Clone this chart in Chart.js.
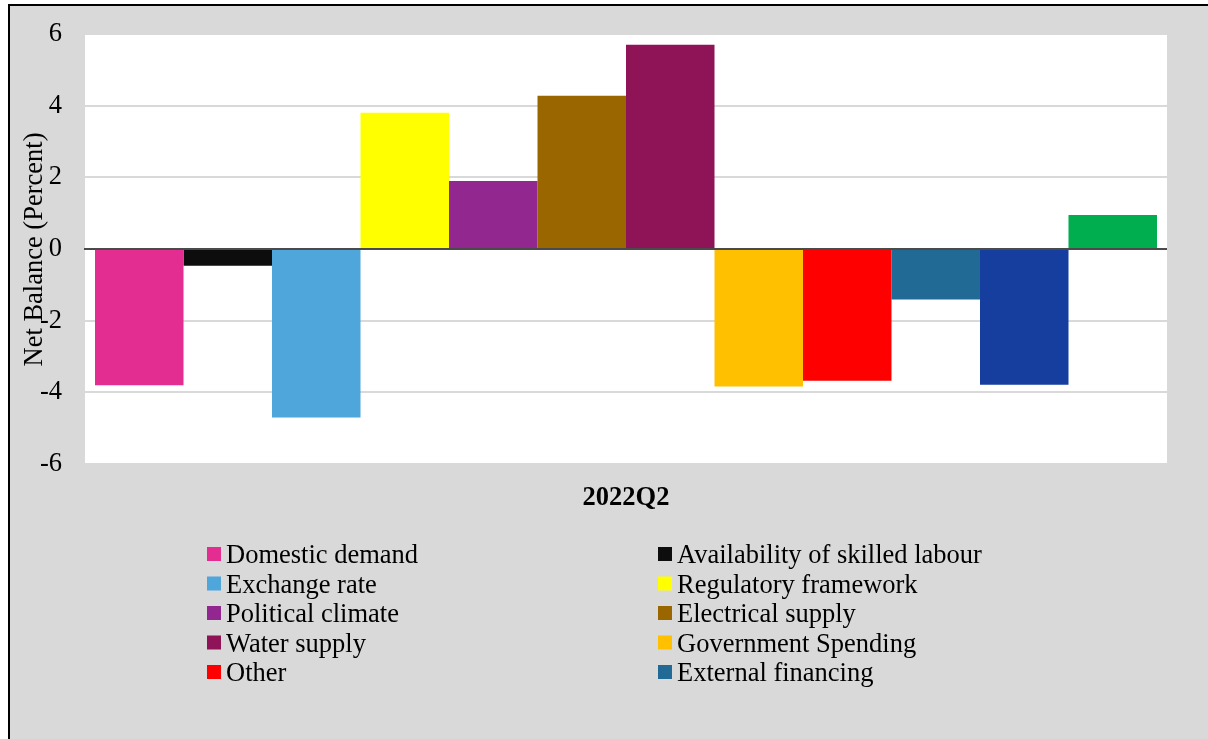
<!DOCTYPE html>
<html>
<head>
<meta charset="utf-8">
<script src="https://cdn.jsdelivr.net/npm/chart.js@4/dist/chart.umd.min.js"></script>
<style>
  html, body { margin: 0; padding: 0; background: #ffffff; }
  body { width: 1208px; height: 739px; position: relative; overflow: hidden; }
  #frame {
    position: absolute; left: 8px; top: 4px; right: -4px; bottom: -4px;
    background: #d9d9d9; border-left: 2px solid #000; border-top: 2px solid #000;
  }
  #wrap { position: absolute; left: 0; top: 0; width: 1208px; height: 739px; }
</style>
</head>
<body>
<div id="frame"></div>
<div id="wrap"><canvas id="c" width="1208" height="739"></canvas></div>
<script>
// Survey period shown on the category axis
const periods = ['2022Q2'];

// Constraint factors (the last two bars have no legend entry)
const factorNames = [
  'Domestic demand', 'Availability of skilled labour',
  'Exchange rate', 'Regulatory framework',
  'Political climate', 'Electrical supply',
  'Water supply', 'Government Spending',
  'Other', 'External financing',
  '', ''
];

// Net balance, percent
const netBalance = [-3.8, -0.47, -4.7, 3.8, 1.9, 4.28, 5.7, -3.84, -3.68, -1.41, -3.79, 0.95];

const barColors = [
  '#e32d91', '#0d0d0d', '#4fa6db', '#ffff00', '#92278f', '#996600',
  '#8e1357', '#ffc000', '#ff0000', '#206a95', '#163e9e', '#00ae4f'
];

const yTicks = [-6, -4, -2, 0, 2, 4, 6];
const legendCount = 10;

const SERIF = '"Liberation Serif", "Times New Roman", serif';
const FONT_SIZE = 26.5;

const datasets = factorNames.map((name, i) => ({
  label: name,
  data: [netBalance[i]],
  backgroundColor: barColors[i],
  borderWidth: 0,
  categoryPercentage: 0.9815,
  barPercentage: 1.0
}));

// White plot area, zero line above bars, rotated axis title, two-column legend
const decor = {
  id: 'decor',
  beforeDraw(chart) {
    const { ctx, chartArea: a } = chart;
    ctx.save();
    ctx.fillStyle = '#ffffff';
    ctx.fillRect(a.left, a.top, a.right - a.left, a.bottom - a.top);
    ctx.restore();
  },
  afterDatasetsDraw(chart) {
    const { ctx, chartArea: a, scales } = chart;
    const y0 = scales.y.getPixelForValue(0);
    ctx.save();
    ctx.strokeStyle = '#1a1a1a';
    ctx.lineWidth = 1.5;
    ctx.beginPath();
    ctx.moveTo(a.left - 1, y0);
    ctx.lineTo(a.right, y0);
    ctx.stroke();
    ctx.restore();
  },
  afterDraw(chart) {
    const { ctx } = chart;
    ctx.save();
    // axis title
    ctx.fillStyle = '#000000';
    ctx.font = FONT_SIZE + 'px ' + SERIF;
    ctx.translate(42, 249.5);
    ctx.rotate(-Math.PI / 2);
    ctx.textAlign = 'center';
    ctx.textBaseline = 'alphabetic';
    ctx.fillText('Net Balance (Percent)', 0, 0);
    ctx.restore();

    // legend
    ctx.save();
    ctx.font = FONT_SIZE + 'px ' + SERIF;
    ctx.textAlign = 'left';
    ctx.textBaseline = 'alphabetic';
    const colX = [207, 658];
    const rowY = [554, 583.5, 613, 642.5, 672];
    chart.data.datasets.slice(0, legendCount).forEach((ds, i) => {
      const x = colX[i % 2];
      const yc = rowY[Math.floor(i / 2)];
      ctx.fillStyle = ds.backgroundColor;
      ctx.fillRect(x, yc - 7, 14, 14);
      ctx.fillStyle = '#000000';
      ctx.fillText(ds.label, x + 19, yc + 9);
    });
    ctx.restore();
  }
};

new Chart(document.getElementById('c'), {
  type: 'bar',
  data: { labels: periods, datasets },
  options: {
    responsive: false,
    animation: false,
    devicePixelRatio: 1,
    layout: { padding: { left: 0, top: 34, right: 41, bottom: 0 } },
    plugins: { legend: { display: false }, tooltip: { enabled: false }, title: { display: false } },
    scales: {
      x: {
        grid: { display: false, drawTicks: false },
        border: { display: false },
        ticks: {
          color: '#000000',
          padding: 18,
          font: { family: SERIF, size: FONT_SIZE, weight: 'bold' }
        },
        afterFit(scale) {
          scale.height = 275;
          scale.paddingLeft = 0;
          scale.paddingRight = 0;
        }
      },
      y: {
        min: -6, max: 6,
        afterBuildTicks(scale) { scale.ticks = yTicks.map(v => ({ value: v })); },
        grid: {
          color: '#d9d9d9',
          lineWidth: 2,
          drawTicks: false
        },
        border: { display: false },
        ticks: {
          color: '#000000',
          padding: 23,
          font: { family: SERIF, size: FONT_SIZE },
          callback: v => String(v)
        },
        afterFit(scale) {
          scale.width = 85;
          scale.paddingTop = 0;
          scale.paddingBottom = 0;
        }
      }
    }
  },
  plugins: [decor]
});
</script>
</body>
</html>
